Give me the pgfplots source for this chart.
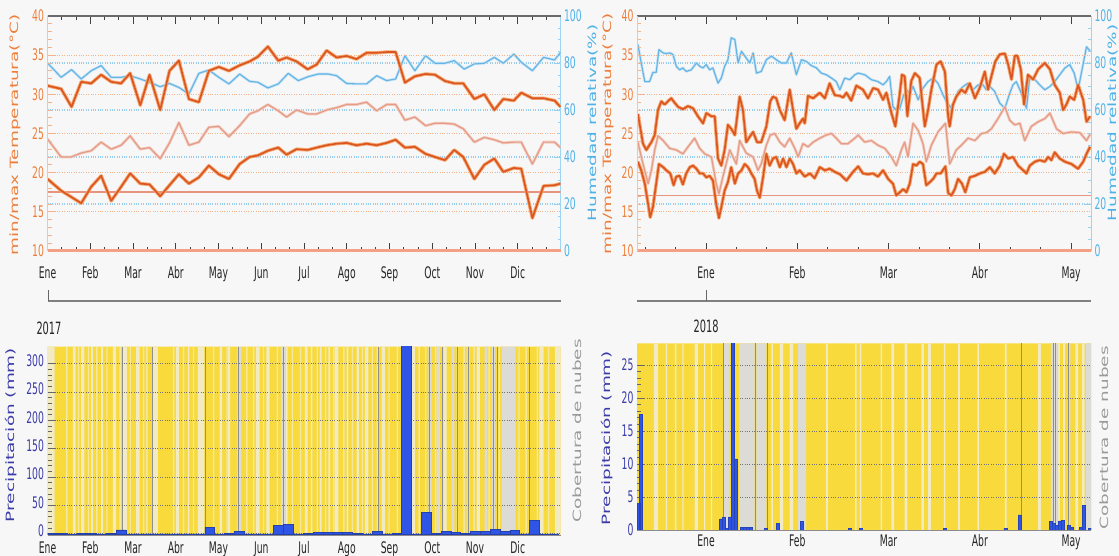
\documentclass[border=0pt]{standalone}
\usepackage{fontspec}
\setmainfont{DejaVu Sans}
\newfontfamily\cond[FakeStretch=0.58]{DejaVu Sans}
\usepackage{graphicx}
\usepackage{pgfplots}
\usepackage{pgfplotstable}
\pgfplotsset{compat=1.18}
\definecolor{bgc}{HTML}{F7F7F7}
\definecolor{tcore}{HTML}{DB5520}
\definecolor{thalo}{HTML}{F4A56E}
\definecolor{mcore}{HTML}{E49C88}
\definecolor{mhalo}{HTML}{F4CDBF}
\definecolor{hcore}{HTML}{64B4E4}
\definecolor{hhalo}{HTML}{C2E1F5}
\definecolor{thr}{HTML}{E8937E}
\definecolor{tgrid}{HTML}{F6B48C}
\definecolor{hgrid}{HTML}{9ACCEE}
\definecolor{tlab}{HTML}{EE7E3A}
\definecolor{hlab}{HTML}{4DB2E8}
\definecolor{botc}{HTML}{F2A184}
\definecolor{topc}{HTML}{6A6A6A}
\definecolor{yelc}{HTML}{F8DA3C}
\definecolor{thinc}{HTML}{F5E79C}
\definecolor{palec}{HTML}{F1EAC2}
\definecolor{grayc}{HTML}{DCDBD6}
\definecolor{darkc}{HTML}{8E8E8E}
\definecolor{barc}{HTML}{2F55E6}
\definecolor{plab}{HTML}{3B3BAA}
\definecolor{clab}{HTML}{9A9A9A}
\newcommand\tkf{\cond\fontsize{16}{18}\selectfont}
\newcommand\lbf{\fontsize{18.5}{20}\selectfont}

% ---------- 2017 weekly data ----------
\pgfplotstableread{
x y
0 31.1
9.7 30.7
17.1 28.4
24.0 31.6
31.1 31.4
38.2 32.5
45.3 31.6
52.4 31.4
58.8 32.7
66.0 28.6
72.6 32.5
80.2 28.0
86.8 33.0
93.5 34.3
100.6 29.4
107.7 29.0
114.8 33.0
121.9 33.5
129.1 33.0
136.7 33.7
143.8 34.2
149.7 34.8
156.8 36.1
164.2 34.3
170.1 34.7
177.2 34.2
185.1 33.2
191.5 33.8
198.6 35.6
205.7 34.7
212.8 34.9
219.9 34.5
227.0 35.3
234.2 35.3
241.3 35.4
247.7 35.4
254.3 31.5
261.4 32.3
269.0 32.6
275.7 32.5
282.8 31.7
289.4 31.4
295.8 31.4
303.7 29.4
310.8 30.0
317.9 28.0
324.3 29.4
331.8 29.2
337.1 30.2
345.0 29.5
352.9 29.5
360.8 29.2
365 28.4
}\Amax
\pgfplotstableread{
x y
0 19.2
9.7 17.7
24.0 16.1
31.1 18.2
38.2 19.6
45.3 16.4
52.4 18.2
58.8 19.9
66.0 18.6
72.6 18.5
80.2 17.0
86.8 18.4
93.5 19.8
100.6 18.6
107.7 19.4
114.8 20.9
121.9 19.8
129.1 19.2
136.7 21.1
143.8 22.0
149.7 22.2
156.8 22.8
164.2 23.2
170.1 22.3
177.2 23.0
185.1 22.9
191.5 23.2
198.6 23.5
205.7 23.7
212.8 23.8
219.9 23.5
227.0 23.7
234.2 23.5
241.3 23.8
247.7 24.2
254.3 23.2
261.4 23.3
269.0 22.4
275.7 22.0
282.8 21.6
289.4 22.9
295.8 22.0
303.7 19.2
310.8 21.0
317.9 21.8
324.3 20.1
331.8 20.6
337.1 20.5
345.0 14.2
352.9 18.3
360.8 18.4
365 18.6
}\Amin
\pgfplotstableread{
x y
0 24.3
9.7 22.0
16.8 22.0
24.0 22.5
31.1 22.8
38.2 23.9
45.3 23.0
52.4 23.5
58.8 24.7
66.0 23.0
72.6 23.2
80.2 21.8
86.8 23.8
93.5 26.4
100.6 23.5
107.7 23.9
114.8 25.8
121.9 25.9
129.1 24.6
136.7 26.0
143.8 27.5
149.7 27.9
156.8 28.7
164.2 27.9
170.1 27.1
177.2 28.0
185.1 27.5
191.5 27.5
198.6 28.0
205.7 28.3
212.8 28.7
219.9 28.7
227.0 29.0
234.2 27.9
241.3 28.7
247.7 28.7
254.3 26.7
261.4 27.1
269.0 26.0
275.7 26.3
282.8 26.3
289.4 26.2
295.8 25.6
303.7 23.9
310.8 24.5
317.9 24.2
324.3 23.8
331.8 23.9
337.1 23.9
345.0 21.1
352.9 23.9
360.8 23.9
365 23.2
}\Amean
\pgfplotstableread{
x y
0 80.0
9.7 73.9
17.1 77.2
24.0 73.2
31.1 76.7
38.2 78.9
45.3 73.9
52.4 73.9
58.8 74.6
66.0 73.2
72.6 71.8
80.2 69.9
86.8 71.3
93.5 69.6
100.6 66.8
107.7 75.6
114.8 77.0
121.9 73.9
129.1 71.1
136.7 75.3
143.8 72.2
149.7 71.8
156.8 69.4
164.2 71.1
171.3 75.6
178.4 72.5
185.5 74.2
192.6 75.3
199.8 75.3
205.7 74.6
212.8 71.3
219.9 71.1
227.0 71.1
234.2 74.6
241.3 72.5
247.7 73.2
254.3 83.1
261.4 76.7
269.0 83.1
275.7 79.9
282.8 79.9
289.4 81.0
296.5 77.4
303.7 79.6
310.8 79.9
317.9 82.4
324.3 79.9
331.8 83.8
337.1 80.3
345.0 76.7
352.9 82.4
360.8 81.3
365 84.5
}\Ahum
\pgfplotstableread{
x y
0 0.5
7 1.5
14 0
21 1.5
28 1.5
35 0
42 1
49 7
56 0
63 0
70 0
77 0
84 0
91 0
98 0
105 0
112 12
119 0
126 1
133 5
140 0
147 0
154 0
161 15
168 17
175 0
182 1
189 3
196 2
203 2
210 3
217 1
224 0
231 4
238 0
245 1
252 340
259 0
266 38
273 1
280 5
287 3
294 1
301 5
308 4
315 8
322 5
329 6
336 0
343 24
350 0
357 0
364 0
}\Aprec
\pgfplotstableread{
x y
0 1
5 0
18 1
20 0
24 1
26.3 0
31 1
32.3 0
38.2 1
39.4 0
46.5 1
48.9 0
53.6 1
56.4 0
63.1 1
65.5 0
75 1
78.5 0
91.6 1
93.5 0
99.9 1
101 0
107 1
111.7 0
122.4 1
124.3 0
128.3 1
130 0
148.5 1
150.9 0
155.7 1
158 0
169.4 1
170.8 0
183.1 1
185 0
187.4 1
188.4 0
193.8 1
195 0
199.8 1
201 0
204.5 1
206.9 0
212.8 1
214 0
219.9 1
221.6 0
225.8 1
228.3 0
237.7 1
240 0
259 1
261.4 0
281.6 1
284 0
305.3 1
307.7 0
350 1
353 0
361 1
365 0
}\Apale
\pgfplotstableread{
x y
0 0
13.3 1
14.3 0
21.6 1
22.6 0
28.7 1
29.7 0
34.6 1
35.6 0
41.8 1
42.8 0
51.2 1
52.2 0
58.4 1
59.4 0
67.9 1
68.9 0
70.2 1
71.2 0
89.2 1
90.2 0
96.3 1
97.3 0
103.4 1
104.4 0
117.7 1
118.7 0
127.2 1
128.2 0
141.4 1
142.4 0
146.2 1
147.2 0
153.2 1
154.2 0
163 1
164 0
173.7 1
174.7 0
179.6 1
180.6 0
191.4 1
192.4 0
197.4 1
198.4 0
203.3 1
204.3 0
210.4 1
211.4 0
216.4 1
217.4 0
223.5 1
224.5 0
230.6 1
231.6 0
234.2 1
235.2 0
242.5 1
243.5 0
248.4 1
249.4 0
263.9 1
264.9 0
268.6 1
269.6 0
275.7 1
276.7 0
282.8 1
283.8 0
291.1 1
292.1 0
295.9 1
296.9 0
303 1
304 0
313.7 1
314.7 0
320.8 1
321.8 0
335 1
336 0
340 1
341 0
348 1
349 0
356 1
357 0
365 0
}\Athin
\pgfplotstableread{
x y
0 0
134.7 1
137.9 0
166 1
169.4 0
271 1
273.3 0
276.9 1
279.2 0
287.5 1
289.5 0
298.2 1
300.6 0
311 1
313 0
316 1
318.4 0
323.1 1
333 0
365 0
}\Agray
% ---------- 2018 daily data ----------
\pgfplotstableread{
x y
-22.7 27.5
-21 23.7
-19.9 22.9
-18.2 23.9
-17.1 24.8
-16 28.0
-14.9 29.1
-13.8 28.7
-12.7 29.1
-11.6 29.5
-10.4 28.9
-9.3 28.4
-7.7 28.1
-6 28.5
-4.3 28.2
-2.7 27.2
-1 26.3
0.1 27.6
1.8 27.2
2.9 27.2
4 21.8
5.1 20.9
6.2 22.9
7.3 26.1
8.4 25.6
9.6 24.8
11.2 29.7
12.3 28.0
13.4 23.9
14.6 24.6
15.7 25.2
17 23.9
18.4 23.9
20.1 25.9
21.4 29.1
22.3 29.7
23.4 29.5
24.6 28.0
26.2 26.7
27.9 30.6
29 28.0
30.1 25.6
31.2 26.3
32.3 26.9
32.9 26.3
34 29.8
35.7 29.5
37.9 30.2
39.6 29.5
41.2 31.4
42.9 29.9
44.6 29.8
45.7 29.6
46.8 30.2
48.4 29.2
50.1 31.1
52.3 30.6
54 29.5
55.7 30.8
57.3 30.6
59 29.3
60.1 30.2
61.8 27.6
63.1 25.9
64.6 30.2
65.3 32.5
66.2 32.3
67.1 27.2
68.4 31.7
69.6 32.7
71.2 32.1
72.9 25.9
74 28.0
75.1 30.6
76.8 33.8
78.2 34.2
79.6 32.9
80.7 27.2
81.2 25.9
82.3 28.7
83.4 29.7
85.1 30.6
86.4 30.2
87.9 31.4
89.6 29.5
91.2 30.8
92.9 32.9
94 30.6
95.1 32.3
96.4 34.2
97.9 35.1
99.6 35.2
100.7 33.8
101.8 31.9
102.9 34.9
103.8 34.9
104.9 33.2
106 28.7
107.3 32.5
109 31.9
110.7 33.2
112.9 34.0
114.6 33.2
116.2 31.2
117.9 30.2
119 28.0
120.1 28.7
121.2 29.7
122.7 29.3
124 31.2
125.7 29.3
126.8 26.5
128 27.2
}\Bmax
\pgfplotstableread{
x y
-22.7 21.4
-21.6 20.3
-20.4 18.6
-19.3 16.0
-18.6 14.3
-17.7 15.6
-16.6 18.6
-15.7 21.1
-14.3 20.7
-13.2 20.3
-11.9 19.9
-10.8 18.4
-9.9 19.5
-8.8 19.6
-7.7 18.5
-6.6 19.9
-5.4 20.7
-4.3 20.9
-3.2 20.5
-2.1 19.9
-1 19.9
0.1 19.4
1.2 19.6
2.3 19.0
3.4 16.0
4.3 14.2
5.1 15.6
6.2 17.7
7.3 18.8
8.4 20.7
9.6 18.6
10.7 19.9
11.8 20.3
12.9 21.1
14 20.7
15.1 19.9
16.2 19.2
17 17.7
17.9 16.8
19 19.4
20.1 22.4
21.2 20.9
22.3 21.8
23.4 22.0
24.6 20.7
25.7 21.8
26.8 20.7
27.9 21.8
29 21.1
30.1 19.9
31.2 20.3
32.9 19.5
34.6 19.9
36.2 19.3
37.9 20.7
39.6 20.3
41.2 20.5
42.9 20.1
44.6 19.8
46.8 19.0
49 20.1
50.7 20.8
52.3 19.9
54 19.8
55.7 19.9
57.3 19.5
59 20.3
60.7 19.2
62.3 18.6
63.4 17.1
64.6 17.5
65.7 17.9
66.8 17.5
67.9 18.6
69 21.1
70.1 20.9
71.2 21.4
72.3 21.1
73.4 18.4
74.6 18.8
75.7 19.2
76.8 19.9
78.2 19.9
79.8 20.8
80.7 17.4
81.8 17.1
82.9 17.9
84 19.2
85.3 18.6
86.4 17.5
87.9 19.4
89.6 19.6
91.2 19.9
92.9 20.1
94.6 20.7
96.2 19.9
97.9 20.9
99.3 22.4
100.7 21.8
102.3 22.0
104 20.9
105.7 20.3
106.8 19.9
107.9 20.9
109.6 21.4
111.2 21.6
112.9 21.4
114 22.0
115.1 21.6
116.2 22.6
117.9 21.8
119.6 21.4
121.8 21.1
124 20.5
125.7 21.4
126.8 22.4
128 23.3
}\Bmin
\pgfplotstableread{
x y
-22.7 23.9
-21 21.1
-19.3 18.6
-18.2 20.3
-17.1 22.9
-16 24.7
-14.3 24.1
-12.1 23.1
-9.9 22.9
-7.7 22.4
-6 23.3
-3.8 24.4
-2.1 23.1
-0.4 22.4
1.8 22.0
3.4 18.6
4.3 17.3
5.7 19.6
7.9 22.9
9 22.0
10.1 21.1
11.2 24.1
13.4 22.5
15.7 22.0
17.3 20.3
18.4 21.1
20.1 23.5
21.4 24.8
22.9 25.0
24.6 23.9
26.2 23.3
27.9 24.4
29.6 23.1
30.7 22.0
32.3 23.7
34 23.3
35.7 23.9
37.9 24.4
40.1 24.8
41.8 25.0
43.4 24.4
45.1 23.7
47.3 23.7
49.6 24.4
50.7 24.8
52.9 23.9
55.1 24.1
57.3 23.5
59.6 23.1
61.8 22.0
63.4 20.9
65.1 22.9
66.2 23.9
67.3 22.0
69 26.3
70.7 25.4
72.3 23.7
73.4 21.4
75.1 23.5
77.3 25.2
79.8 26.3
81.2 21.1
83.4 22.9
85.1 23.5
87.3 24.4
89.6 24.1
91.8 25.0
93.4 25.1
95.1 25.6
97.3 26.9
99.6 28.4
101.2 26.7
102.9 26.1
104.6 26.3
106.2 24.1
108.4 25.9
110.7 26.5
112.9 26.9
114.6 27.6
116.8 25.6
119 25.0
121.8 25.2
124.6 25.1
126.8 24.1
128 24.9
}\Bmean
\pgfplotstableread{
x y
-22.7 87.9
-21.6 80.0
-20.4 72.1
-18.8 72.1
-17.7 76.0
-16.6 76.0
-15.7 85.7
-14.3 84.3
-13.2 84.0
-12.1 84.3
-11 83.6
-9.9 78.6
-8.8 77.1
-7.7 77.9
-6.6 76.4
-4.9 77.1
-3.2 80.0
-2.1 78.6
-1 77.9
0.1 79.3
1.2 77.1
2.3 77.9
4 71.4
5.1 73.6
6.2 78.6
7.3 81.4
8.4 90.7
9.6 90.0
10.7 80.0
11.8 85.0
13.4 82.1
14.6 80.0
15.7 84.3
16.8 75.7
18.4 76.4
20.1 81.4
21.8 82.9
23.4 81.4
25.1 80.0
26.8 80.0
28.4 84.3
30.1 75.0
31.8 81.4
33.4 80.7
35.1 78.9
36.8 77.9
38.4 75.7
40.1 75.0
41.8 73.6
43.4 72.1
44.6 68.6
46.2 73.6
47.9 72.9
49.6 75.0
50.7 75.7
52.9 75.0
55.1 72.9
57.3 72.1
59 70.7
60.1 72.1
61.2 74.3
62.3 61.4
63.4 60.0
64.6 60.7
65.7 65.7
66.8 68.6
67.9 67.1
69 70.0
70.7 64.3
72.3 69.3
74 72.1
75.7 73.6
77.3 71.4
79 66.4
80.1 63.6
81.8 60.7
82.9 64.3
84 67.9
85.7 70.0
87.3 71.4
89 68.6
90.7 70.7
92.3 70.7
93.4 68.6
94.6 70.0
96.2 67.9
97.9 62.9
99.6 60.7
101.2 67.1
102.3 70.7
103.4 72.1
105.1 67.1
106.2 62.9
106.8 60.7
107.9 74.3
109.6 72.9
111.2 70.7
112.9 68.6
114.6 70.0
116.2 72.1
117.9 75.0
119.6 77.9
121.2 79.3
122.7 75.7
124 68.6
125.3 77.1
126.8 86.9
128 85.0
}\Bhum
\pgfplotstableread{
x y
-22.6 4
-21.7 17.5
5 1.7
6 1.9
7 0.3
8 2.0
9 29
10 10.8
12 0.4
13 0.4
14 0.4
15 0.4
20 0.3
24 1.0
32 1.3
48 0.2
51.5 0.3
79.5 0.2
99.8 0.3
104.5 2.3
115 1.3
116 1.0
117 0.75
118 1.4
119 1.5
121 0.75
122 0.35
125 0.35
126 3.7
128 0.3
}\Bprec
\pgfplotstableread{
x y
-23 0
-17.4 1
-16 0
-13.4 1
-13 0
-10.4 1
-9.9 0
-7.9 1
-7.5 0
-3.8 1
-2.7 0
-0.6 1
-0.2 0
1.6 1
2 0
21.8 1
22.3 0
24.6 1
25.7 0
27.9 1
29 0
40 1
40.6 0
49.7 1
50.2 0
51.3 1
51.8 0
58.2 1
58.7 0
61.8 1
62.7 0
66.2 1
67.1 0
71.8 1
72.6 0
74 1
74.9 0
79.3 1
79.8 0
84 1
84.6 0
90.4 1
90.9 0
99.6 1
100.2 0
110.7 1
111.6 0
117.3 1
117.9 0
119 1
119.6 0
123.1 1
124 0
125.3 1
126.2 0
128.3 0
}\Bpale
\pgfplotstableread{
x y
-23 0
5.9 1
7.9 0
11 1
16.2 0
16.8 1
20.1 0
30.7 1
33.4 0
114.9 1
117.1 0
120.6 1
121.4 0
126.7 1
128.3 0
}\Bgray

\pgfplotsset{
  every axis/.append style={scale only axis, anchor=south west, tick align=inside,
    clip mode=individual,
    /pgf/number format/assume math mode=true, ticklabel style={font=\tkf}},
  humax/.style={axis x line=none, axis y line*=right,
    y axis line style={draw=hlab!55, line width=1bp, -},
    ymin=0, ymax=100, ytick={0,20,...,100}, minor y tick num=3,
    ymajorgrids, grid style={draw=hgrid, dotted, line width=1.1bp},
    yticklabel style={text=hlab}, ytick style={draw=hlab!60},
    major tick length=6bp, minor tick length=3bp},
  tempax/.style={ymin=10, ymax=40, axis line style={draw=none},
    xtick pos=both, xticklabel pos=lower,
    xticklabel style={yshift=-12bp, text=black!85},
    xtick style={draw=black!75, line width=0.9bp},
    major tick length=8bp, minor tick length=4bp,
    ytick={10,15,...,40}, ytick pos=left, minor y tick num=4,
    ymajorgrids, grid style={draw=tgrid, dotted, line width=1.1bp},
    yticklabel style={text=tlab}, ytick style={draw=tlab!60, line width=0.8bp}},
  cloudax/.style={ymin=0, ymax=1, hide axis},
  precax/.style={axis line style={draw=none},
    xtick pos=lower, xtick style={draw=none},
    xticklabel style={text=black!85, yshift=-3bp},
    ytick pos=left, minor y tick num=4,
    ymajorgrids, grid style={draw=black!55, dotted, line width=1bp},
    yticklabel style={text=plab}, ytick style={draw=black!60, line width=0.8bp},
    major tick length=7bp, minor tick length=4bp},
  hh/.style={draw=thalo, line width=3.4bp, line join=round},
  hc/.style={draw=tcore, line width=1.6bp, line join=round},
  mh/.style={draw=mhalo, line width=2.8bp, line join=round},
  mc/.style={draw=mcore, line width=1.2bp, line join=round},
  uh/.style={draw=hhalo, line width=2.6bp, line join=round},
  uc/.style={draw=hcore, line width=1.1bp, line join=round},
}
\newcommand\monthsA{0,30.42,60.83,91.25,121.67,152.08,182.5,212.92,243.33,273.75,304.17,334.58}
\newcommand\minorA{10.14,20.28,40.56,50.69,70.97,81.11,101.39,111.53,131.81,141.94,162.22,172.36,192.64,202.78,223.06,233.19,253.47,263.61,283.89,294.03,314.31,324.44,344.72,354.86}

\begin{document}
\begin{tikzpicture}
\fill[bgc] (0bp,0bp) rectangle (1119bp,556bp);
\path[use as bounding box] (0bp,0bp) rectangle (1119bp,556bp);

% ===== top left =====
\begin{axis}[humax, at={(47.5bp,305bp)}, width=513bp, height=235bp, xmin=0, xmax=365]
\addplot[uh] table {\Ahum};
\addplot[uc] table {\Ahum};
\end{axis}
\begin{axis}[tempax, at={(47.5bp,305bp)}, width=513bp, height=235bp, xmin=0, xmax=365,
  xtick/.expanded={\monthsA}, minor xtick/.expanded={\minorA},
  xticklabels={Ene,Feb,Mar,Abr,May,Jun,Jul,Ago,Sep,Oct,Nov,Dic}]
\addplot[draw=thr, line width=1.5bp] coordinates {(0,17.5) (365,17.5)};
\addplot[mh] table {\Amean};
\addplot[mc] table {\Amean};
\addplot[hh] table {\Amin};
\addplot[hc] table {\Amin};
\addplot[hh] table {\Amax};
\addplot[hc] table {\Amax};
\draw[draw=topc, line width=1.5bp] (rel axis cs:0,1) -- (rel axis cs:1,1);
\draw[draw=botc, line width=3bp] (rel axis cs:0,0) -- (rel axis cs:1,0);
\draw[draw=tlab!45, line width=1bp] (rel axis cs:0,0) -- (rel axis cs:0,1);
\end{axis}

% ===== top right =====
\begin{axis}[humax, at={(637bp,305bp)}, width=454bp, height=235bp, xmin=-23, xmax=128.3]
\addplot[uh] table {\Bhum};
\addplot[uc] table {\Bhum};
\end{axis}
\begin{axis}[tempax, at={(637bp,305bp)}, width=454bp, height=235bp, xmin=-23, xmax=128.3,
  xtick={0,30.42,60.83,91.25,121.67},
  minor xtick={-20.28,-10.14,10.14,20.28,40.56,50.69,70.97,81.11,101.39,111.53},
  xticklabels={Ene,Feb,Mar,Abr,May}]
\addplot[draw=thr, line width=1.5bp] coordinates {(-23,17.1) (128.3,17.1)};
\addplot[mh] table {\Bmean};
\addplot[mc] table {\Bmean};
\addplot[hh] table {\Bmin};
\addplot[hc] table {\Bmin};
\addplot[hh] table {\Bmax};
\addplot[hc] table {\Bmax};
\draw[draw=topc, line width=1.5bp] (rel axis cs:0,1) -- (rel axis cs:1,1);
\draw[draw=botc, line width=3bp] (rel axis cs:0,0) -- (rel axis cs:1,0);
\draw[draw=tlab!45, line width=1bp] (rel axis cs:0,0) -- (rel axis cs:0,1);
\end{axis}

% ===== bottom left =====
\begin{axis}[cloudax, at={(47.5bp,21bp)}, width=513bp, height=188.3bp, xmin=0, xmax=365]
\addplot[const plot, fill=yelc, draw=none] coordinates {(0,1) (365,1)} \closedcycle;
\addplot[const plot, fill=thinc, draw=none] table {\Athin} \closedcycle;
\addplot[const plot, fill=palec, draw=none] table {\Apale} \closedcycle;
\addplot[const plot, fill=grayc, draw=none] table {\Agray} \closedcycle;
\addplot[ycomb, draw=darkc, line width=0.9bp, mark=none] coordinates {(53.1,1) (74.5,1) (112.2,1) (136,1) (167.7,1) (235.6,1) (272,1) (281,1) (292,1) (299.4,1) (317.2,1) (320,1) (343,1)};
\end{axis}
\begin{axis}[precax, at={(47.5bp,21bp)}, width=513bp, height=188.3bp, xmin=0, xmax=365,
  ymin=-2, ymax=330, ytick={0,50,...,300},
  yticklabel style={yshift=3bp},
  xtick/.expanded={\monthsA},
  xticklabels={Ene,Feb,Mar,Abr,May,Jun,Jul,Ago,Sep,Oct,Nov,Dic}]
\addplot[ybar interval, fill=barc, draw=barc!75!black, line width=0.6bp] table {\Aprec};
\draw[draw=black!45, line width=1bp] (rel axis cs:0,0) -- (rel axis cs:1,0);
\end{axis}

% ===== bottom right =====
\begin{axis}[cloudax, at={(637bp,26bp)}, width=454bp, height=186.7bp, xmin=-23, xmax=128.3]
\addplot[const plot, fill=yelc, draw=none] coordinates {(-23,1) (128.3,1)} \closedcycle;
\addplot[const plot, fill=palec, draw=none] table {\Bpale} \closedcycle;
\addplot[const plot, fill=grayc, draw=none] table {\Bgray} \closedcycle;
\addplot[ycomb, draw=darkc, line width=0.9bp, mark=none] coordinates {(5.7,1) (9,1) (16.4,1) (20.6,1) (105.1,1) (115.7,1) (116.4,1) (120.9,1)};
\end{axis}
\begin{axis}[precax, at={(637bp,26bp)}, width=454bp, height=186.7bp, xmin=-23, xmax=128.3,
  ymin=0, ymax=28.3, ytick={0,5,...,25},
  xticklabel style={yshift=2bp},
  xtick={0,30.42,60.83,91.25,121.67}, xticklabels={Ene,Feb,Mar,Abr,May}]
\addplot[ybar, bar width=3bp, bar shift=0pt, fill=barc, draw=barc!80!black, line width=0.4bp] table {\Bprec};
\draw[draw=black!45, line width=1bp] (rel axis cs:0,0) -- (rel axis cs:1,0);
\end{axis}

% ===== year lines =====
\draw[draw=black!50, line width=1.3bp] (48bp,255bp) -- (560.5bp,255bp);
\draw[draw=black!60, line width=0.9bp] (48bp,255bp) -- (48bp,266bp);
\draw[draw=black!50, line width=1.3bp] (637bp,255bp) -- (1091bp,255bp);
\draw[draw=black!60, line width=0.9bp] (706bp,255bp) -- (706bp,266bp);
\node[font=\cond\fontsize{17}{18}\selectfont, text=black!85] at (49bp,228bp) {2017};
\node[font=\cond\fontsize{17}{18}\selectfont, text=black!85] at (706bp,230bp) {2018};

% ===== axis titles =====
\node[rotate=90, text=tlab, font=\lbf] at (15bp,421bp) {\scalebox{1}[0.62]{min/max Temperatura(°C)}};
\node[rotate=90, text=hlab, font=\lbf] at (593bp,433bp) {\scalebox{1}[0.62]{Humedad relativa(\%)}};
\node[rotate=90, text=tlab, font=\lbf] at (608bp,422bp) {\scalebox{1}[0.62]{min/max Temperatura(°C)}};
\node[rotate=90, text=hlab, font=\lbf] at (1113bp,433bp) {\scalebox{1}[0.62]{Humedad relativa(\%)}};
\node[rotate=90, text=plab, font=\lbf] at (11bp,121bp) {\scalebox{1}[0.62]{Precipitación (mm)}};
\node[rotate=90, text=clab, font=\lbf] at (577bp,125bp) {\scalebox{1}[0.62]{Cobertura de nubes}};
\node[rotate=90, text=plab, font=\lbf] at (607bp,118bp) {\scalebox{1}[0.62]{Precipitación (mm)}};
\node[rotate=90, text=clab, font=\lbf] at (1104bp,118bp) {\scalebox{1}[0.62]{Cobertura de nubes}};
\end{tikzpicture}
\end{document}
